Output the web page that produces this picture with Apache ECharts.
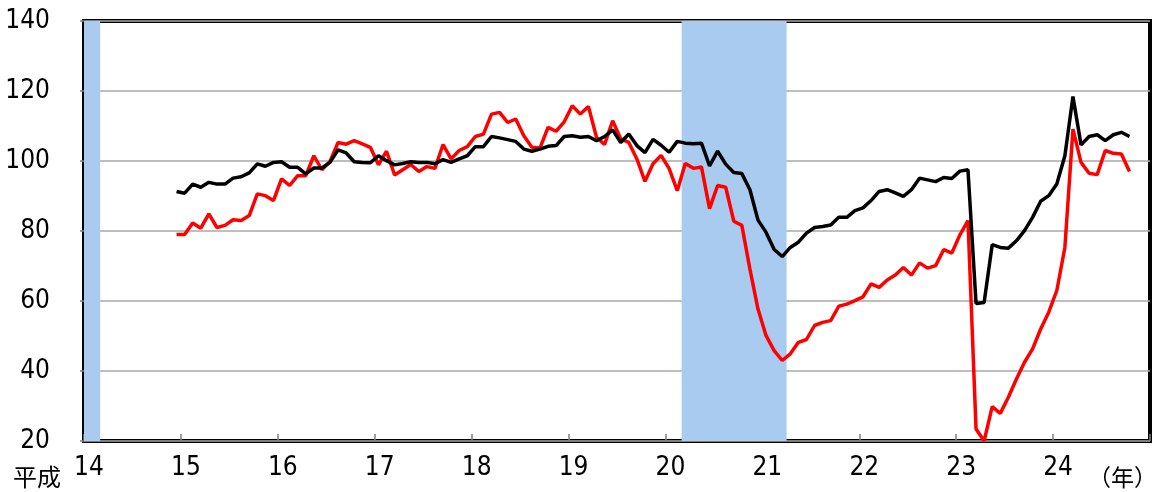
<!DOCTYPE html>
<html>
<head>
<meta charset="utf-8">
<script src="https://cdn.jsdelivr.net/npm/echarts@6/dist/echarts.min.js"></script>
<style>
  html, body { margin: 0; padding: 0; background: #fff; }
  #chart { width: 1157px; height: 492px; }
</style>
</head>
<body>
<div id="chart"></div>
<script>
// monthly points, first one sits just before the 15 tick
const firstMonth = 14.955;

const blackValues = [
  91.3, 90.8, 93.4, 92.5, 93.9, 93.4, 93.4, 95.1, 95.5, 96.6, 99.2, 98.5,
  99.6, 99.8, 98.2, 98.2, 96.3, 98.0, 98.0, 99.6, 103.2, 102.3, 99.8, 99.6,
  99.5, 101.5, 100.1, 98.9, 99.3, 99.8, 99.6, 99.6, 99.2, 100.4, 99.6, 100.6,
  101.5, 104.1, 104.1, 107.0, 106.6, 106.1, 105.6, 103.4, 102.8, 103.4, 104.2, 104.4,
  107.0, 107.2, 106.8, 107.0, 105.8, 107.0, 108.9, 105.3, 107.7, 104.4, 102.4, 106.2,
  104.5, 102.5, 105.6, 105.1, 104.9, 105.1, 98.6, 102.8, 99.1, 96.7, 96.4, 91.8,
  83.1, 79.6, 74.7, 72.7, 75.3, 76.8, 79.4, 81.0, 81.3, 81.7, 83.9, 83.9,
  85.8, 86.6, 88.7, 91.3, 91.8, 90.9, 89.9, 91.8, 95.1, 94.6, 94.1, 95.3,
  95.0, 97.1, 97.5, 59.3, 59.6, 76.1, 75.3, 75.1, 77.2, 80.1, 83.9, 88.5,
  90.1, 93.4, 101.5, 118.4, 104.6, 107.0, 107.5, 105.8, 107.5, 108.2, 107.0
];

const redValues = [
  79.0, 79.0, 82.3, 80.8, 84.9, 81.0, 81.6, 83.2, 83.0, 84.4, 90.6, 90.1,
  88.7, 94.9, 93.0, 95.8, 95.8, 101.5, 97.5, 99.9, 105.3, 104.8, 105.8, 104.9,
  103.9, 98.9, 102.8, 96.0, 97.5, 99.0, 97.0, 98.4, 97.9, 104.7, 100.6, 103.0,
  104.1, 107.0, 107.7, 113.4, 113.9, 111.0, 112.0, 107.2, 103.9, 103.7, 109.6, 108.5,
  111.2, 115.8, 113.4, 115.6, 106.8, 104.7, 111.5, 106.3, 105.3, 100.6, 94.2, 99.2,
  101.6, 97.8, 91.5, 99.3, 97.9, 98.3, 86.4, 93.0, 92.5, 82.8, 81.6, 69.1,
  57.7, 50.1, 45.8, 43.0, 44.9, 48.2, 49.0, 53.0, 53.9, 54.4, 58.5, 59.1,
  60.1, 61.2, 64.9, 63.9, 66.0, 67.4, 69.6, 67.4, 70.9, 69.4, 70.1, 74.7,
  73.7, 78.9, 83.0, 23.4, 20.0, 29.8, 27.9, 32.5, 37.7, 42.5, 46.3, 52.0,
  56.8, 63.0, 75.3, 109.1, 99.6, 96.5, 96.1, 103.0, 102.2, 102.0, 97.0
];

// shaded periods (year positions)
const bands = [
  [14.0, 14.167],
  [20.167, 21.25]
];

const yearTicks = [14, 15, 16, 17, 18, 19, 20, 21, 22, 23, 24];

const numFont = "'Liberation Sans Narrow', 'DejaVu Sans Condensed', 'Noto Sans CJK JP', sans-serif";
const jpFont = "'Noto Sans CJK JP', sans-serif";

const toPoints = (values) => values.map((v, i) => [firstMonth + i / 12, v]);

const chart = echarts.init(document.getElementById('chart'));

chart.setOption({
  animation: false,
  grid: {
    left: 84,
    right: 7,
    top: 21,
    bottom: 51,
    show: true,
    borderColor: '#000',
    borderWidth: 4,
    backgroundColor: '#fff',
  },
  xAxis: {
    type: 'value',
    min: 14,
    max: 25,
    interval: 1,
    axisLine: { show: false },
    axisTick: {
      show: true,
      inside: true,
      length: 7,
      lineStyle: { color: '#808080', width: 1.5 },
    },
    splitLine: { show: false },
    axisLabel: {
      color: '#000',
      fontFamily: numFont,
      fontSize: 26,
      margin: 14,
      padding: [0, 0, 0, 10],
      formatter: (v) => (yearTicks.includes(v) ? String(v) : ''),
    },
  },
  yAxis: {
    type: 'value',
    min: 20,
    max: 140,
    interval: 20,
    axisLine: { show: false },
    axisTick: {
      show: true,
      length: 4,
      lineStyle: { color: '#808080', width: 1.5 },
    },
    splitLine: { lineStyle: { color: '#a8a8a8', width: 1.5 } },
    axisLabel: {
      color: '#000',
      fontFamily: numFont,
      fontSize: 26,
      margin: 34,
    },
  },
  graphic: [
    {
      type: 'text',
      left: 13,
      top: 465,
      style: { text: '平成', font: '24px ' + jpFont, fill: '#000' },
    },
    {
      type: 'text',
      right: 0,
      top: 466,
      style: { text: '（年）', font: '23px ' + jpFont, fill: '#000' },
    },
  ],
  series: [
    {
      type: 'line',
      z: 1,
      data: [],
      markArea: {
        silent: true,
        itemStyle: { color: '#a9cbef', opacity: 1 },
        data: bands.map(([a, b]) => [{ xAxis: a }, { xAxis: b }]),
      },
    },
    {
      type: 'line',
      data: toPoints(redValues),
      symbol: 'none',
      lineStyle: { color: '#ff0000', width: 3.5 },
    },
    {
      type: 'line',
      data: toPoints(blackValues),
      symbol: 'none',
      lineStyle: { color: '#000000', width: 3.5 },
    },
  ],
});
</script>
</body>
</html>
